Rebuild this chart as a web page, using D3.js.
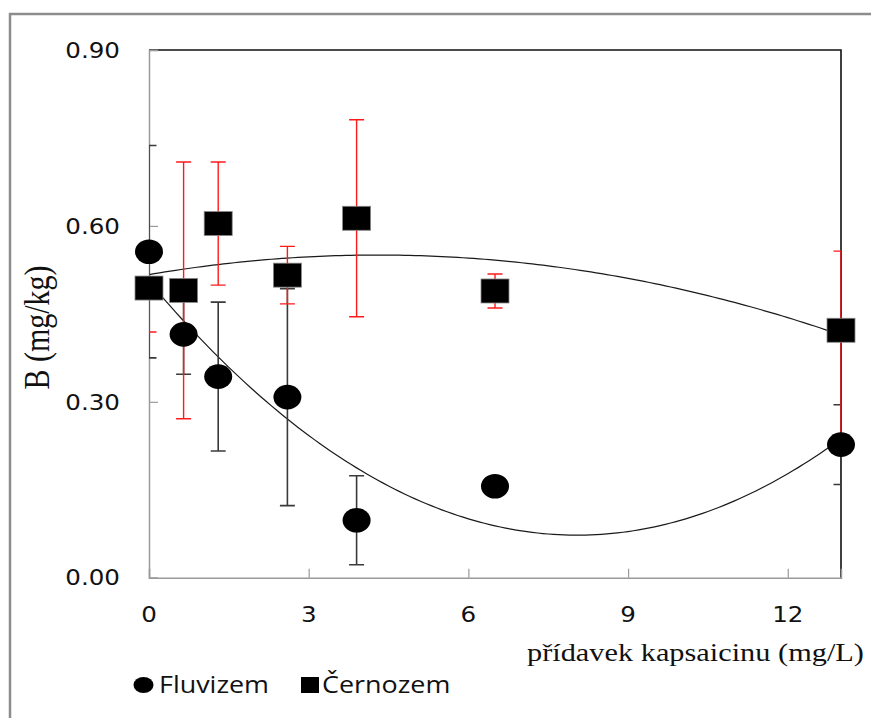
<!DOCTYPE html>
<html>
<head>
<meta charset="utf-8">
<script src="https://cdn.jsdelivr.net/npm/d3@7"></script>
<style>
  html, body { margin: 0; padding: 0; background: #fff; }
  svg { display: block; }
</style>
</head>
<body>
<svg id="chart" width="871" height="718"></svg>
<script>
// ---- data ----
const doses = [0, 0.65, 1.3, 2.6, 3.9, 6.5, 13];
const fluvizem = [0.556, 0.415, 0.343, 0.308, 0.098, 0.156, 0.227];
const fluvizemErrPlus = [0.181, 0.068, 0.127, 0.185, 0.076, 0.015, 0.068];
const fluvizemErrMinus = [0.181, 0.068, 0.127, 0.185, 0.076, 0.015, 0.068];
const cernozem = [0.494, 0.490, 0.604, 0.516, 0.613, 0.489, 0.422];
const cernozemErrPlus = [0.075, 0.219, 0.105, 0.049, 0.168, 0.029, 0.135];
const cernozemErrMinus = [0.075, 0.219, 0.105, 0.049, 0.168, 0.029, 0.19];
const xTicks = [0, 3, 6, 9, 12];
const yTicks = [0, 0.3, 0.6, 0.9];
const seriesNames = ["Fluvizem", "Černozem"];
const xTitle = "přídavek kapsaicinu (mg/L)";
const yTitle = "B (mg/kg)";

// ---- layout ----
const SX = 1.17; // horizontal stretch of the original picture
const svg = d3.select("#chart");
const plot = { left: 149, right: 841, top: 50, bottom: 577.7 };
const x = d3.scaleLinear().domain([0, 13]).range([plot.left, plot.right]);
const y = d3.scaleLinear().domain([0, 0.9]).range([plot.bottom, plot.top]);

// outer frame (only top and left edges visible)
svg.append("path")
  .attr("d", `M10,718 L10,14 L871,14`)
  .attr("fill", "none").attr("stroke", "#8c8c8c").attr("stroke-width", 2.5);

// clip for error bars
svg.append("clipPath").attr("id", "plotclip")
  .append("rect").attr("x", plot.left).attr("y", plot.top)
  .attr("width", plot.right - plot.left).attr("height", plot.bottom - plot.top);

// plot borders: top & right black, left & bottom gray axes
svg.append("path")
  .attr("d", `M${plot.left},${plot.top} L${plot.right},${plot.top} L${plot.right},${plot.bottom}`)
  .attr("fill", "none").attr("stroke", "#111").attr("stroke-width", 1.6);

const xAxis = d3.axisBottom(x).tickValues(xTicks).tickSize(-9).tickFormat(d3.format("d"));
const gx = svg.append("g").attr("transform", `translate(0,${plot.bottom})`).call(xAxis);
gx.select(".domain").attr("stroke", "#9a9a9a").attr("stroke-width", 1.5);
gx.selectAll(".tick line").attr("stroke", "#9a9a9a").attr("stroke-width", 1.2);
gx.selectAll(".tick text").remove();

const yAxis = d3.axisLeft(y).tickValues(yTicks).tickSize(-9);
const gy = svg.append("g").attr("transform", `translate(${plot.left},0)`).call(yAxis);
gy.select(".domain").attr("stroke", "#9a9a9a").attr("stroke-width", 1.5);
gy.selectAll(".tick line").attr("stroke", "#9a9a9a").attr("stroke-width", 1.2);
gy.selectAll(".tick text").remove();

// tick labels (stretched like the original)
const tickFont = "'DejaVu Sans', sans-serif";
svg.append("g").selectAll("text").data(xTicks).join("text")
  .attr("transform", d => `translate(${x(d)},${621.5}) scale(${SX},1)`)
  .attr("text-anchor", "middle")
  .attr("font-family", tickFont).attr("font-size", 21).attr("fill", "#111")
  .text(d3.format("d"));
svg.append("g").selectAll("text").data(yTicks).join("text")
  .attr("transform", d => `translate(120,${y(d) + 7.7}) scale(${SX},1)`)
  .attr("text-anchor", "end")
  .attr("font-family", tickFont).attr("font-size", 21).attr("fill", "#111")
  .text(d3.format(".2f"));

// axis titles
svg.append("text")
  .attr("transform", `translate(527,661) scale(${SX},1)`)
  .attr("text-anchor", "start")
  .attr("font-family", "'Liberation Serif', 'Times New Roman', serif")
  .attr("font-size", 25.5).attr("fill", "#111")
  .attr("textLength", 288).attr("lengthAdjust", "spacingAndGlyphs")
  .text(xTitle);
svg.append("text")
  .attr("transform", `translate(49,327.5) scale(${SX},1) rotate(-90)`)
  .attr("text-anchor", "middle")
  .attr("font-family", "'Liberation Serif', 'Times New Roman', serif")
  .attr("font-size", 30).attr("fill", "#111")
  .text(yTitle);

// ---- quadratic least-squares trendlines ----
function quadFit(xs, ys) {
  const n = xs.length;
  let s = [0, 0, 0, 0, 0], t = [0, 0, 0];
  for (let i = 0; i < n; i++) {
    let p = 1;
    for (let k = 0; k < 5; k++) { s[k] += p; if (k < 3) t[k] += p * ys[i]; p *= xs[i]; }
  }
  const A = [[s[0], s[1], s[2], t[0]], [s[1], s[2], s[3], t[1]], [s[2], s[3], s[4], t[2]]];
  for (let i = 0; i < 3; i++) {
    for (let j = i + 1; j < 3; j++) {
      const f = A[j][i] / A[i][i];
      for (let k = i; k < 4; k++) A[j][k] -= f * A[i][k];
    }
  }
  const c = [0, 0, 0];
  for (let i = 2; i >= 0; i--) {
    let v = A[i][3];
    for (let k = i + 1; k < 3; k++) v -= A[i][k] * c[k];
    c[i] = v / A[i][i];
  }
  return xv => c[0] + c[1] * xv + c[2] * xv * xv;
}
const fitF = quadFit(doses, fluvizem);
const fitC = quadFit(doses, cernozem);
const samples = d3.range(0, 13.0001, 0.1);
const line = d3.line().x(d => x(d[0])).y(d => y(d[1])).curve(d3.curveLinear);
[fitF, fitC].forEach(f => {
  svg.append("path")
    .datum(samples.map(v => [v, f(v)]))
    .attr("d", line)
    .attr("fill", "none").attr("stroke", "#1a1a1a").attr("stroke-width", 1.2);
});

// ---- error bars ----
const cap = 7.5;
function errorBars(vals, plus, minus, color, width) {
  const g = svg.append("g").attr("clip-path", "url(#plotclip)")
    .attr("stroke", color).attr("stroke-width", width).attr("fill", "none");
  const data = doses.map((d, i) => ({ x: d, v: vals[i], p: plus[i], m: minus[i] }));
  g.selectAll("path").data(data).join("path")
    .attr("d", d => {
      const cx = x(d.x), y1 = y(d.v + d.p), y2 = y(d.v - d.m);
      return `M${cx},${y1}L${cx},${y2}M${cx - cap},${y1}L${cx + cap},${y1}M${cx - cap},${y2}L${cx + cap},${y2}`;
    });
}
errorBars(fluvizem, fluvizemErrPlus, fluvizemErrMinus, "#3a3a3a", 1.6);
errorBars(cernozem, cernozemErrPlus, cernozemErrMinus, "#ff1a1a", 1.4);

// ---- markers ----
svg.append("g").selectAll("ellipse").data(doses).join("ellipse")
  .attr("cx", d => x(d)).attr("cy", (d, i) => y(fluvizem[i]))
  .attr("rx", 14).attr("ry", 12.3).attr("fill", "#000");
svg.append("g").selectAll("rect").data(doses).join("rect")
  .attr("x", d => x(d) - 14).attr("y", (d, i) => y(cernozem[i]) - 12)
  .attr("width", 28).attr("height", 24).attr("fill", "#000")
  .attr("stroke", "#888").attr("stroke-width", 0.8);

// ---- legend ----
const legFont = "'Open Sans', sans-serif";
svg.append("ellipse").attr("cx", 143.5).attr("cy", 685).attr("rx", 10).attr("ry", 8).attr("fill", "#000");
svg.append("rect").attr("x", 301).attr("y", 677).attr("width", 18).attr("height", 16).attr("fill", "#000");
svg.selectAll(".leg").data(seriesNames).join("text").attr("class", "leg")
  .attr("transform", (d, i) => `translate(${i === 0 ? 159 : 322},693) scale(${SX},1)`)
  .attr("font-family", legFont).attr("font-size", 23).attr("fill", "#111")
  .text(d => d);
</script>
</body>
</html>
